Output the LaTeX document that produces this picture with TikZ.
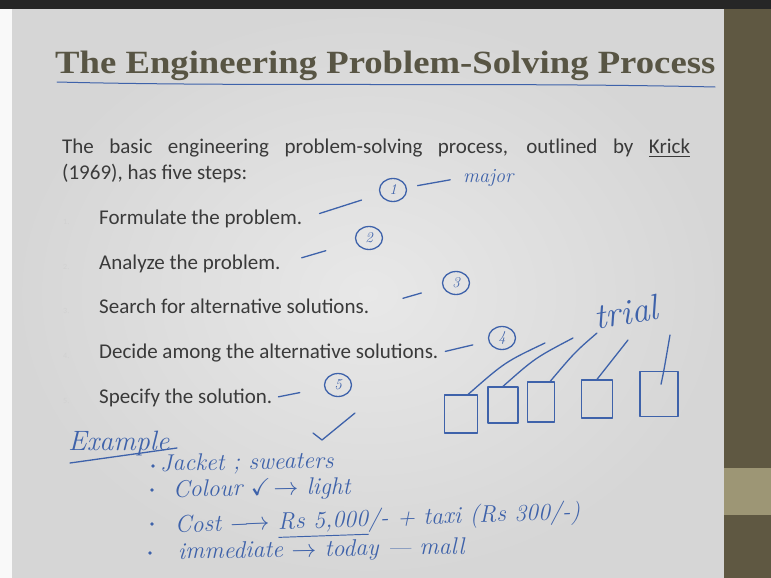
\documentclass[tikz,border=0pt]{standalone}
\usepackage{fontspec}
\usepackage{amssymb}
\usepackage{graphicx}
\usepackage{xcolor}
\usepackage{tikz}
\usetikzlibrary{shapes.geometric}

\newfontfamily\bodyfont{Carlito}
\newfontfamily\titlefont{Liberation Serif}

\definecolor{slidegray}{RGB}{214,214,214}
\definecolor{slidelight}{RGB}{232,232,232}
\definecolor{barolive}{RGB}{95,88,66}
\definecolor{barstripe}{RGB}{157,150,117}
\definecolor{titleolive}{RGB}{88,85,68}
\definecolor{bodygray}{RGB}{58,58,58}
\definecolor{inkblue}{RGB}{62,98,170}

\tikzset{
    ink/.style={draw=inkblue, line width=1.3pt, line cap=round, line join=round},
    stepitem/.style={anchor=base west, inner sep=0pt, text=bodygray,
        text height=14pt, text depth=4pt, font=\bodyfont\fontsize{21}{25}\selectfont},
    stepnum/.style={anchor=base west, inner sep=0pt, text=black!18,
        font=\bodyfont\fontsize{8}{9}\selectfont},
    numring/.style={ink, ellipse, minimum width=27pt, minimum height=23pt, inner sep=0pt,
        text=inkblue, font=\itshape\fontsize{15}{15}\selectfont},
    trialbox/.style={ink, inner sep=0pt},
    handtext/.style={anchor=base west, inner sep=0pt, text=inkblue,
        font=\itshape\fontsize{24}{26}\selectfont},
}

\begin{document}
\begin{tikzpicture}[x=1pt, y=-1pt]

                \useasboundingbox (0,0) rectangle (771,578);

                \fill[white!95!gray] (0,0) rectangle (12,578);
                \shade[
                    inner color=slidelight,
                    outer color=slidegray
                ] (12,9) rectangle (724,578);
                \fill[barolive] (724,9) rectangle (771,578);
                \fill[barstripe] (724,468) rectangle (771,515);
                \fill[black!85] (0,0) rectangle (771,9);

                \node[anchor=base west, inner sep=0pt, text=titleolive] (title) at (55,74)
                    {\resizebox{660pt}{22.5pt}{\titlefont\bfseries The Engineering Problem-Solving Process}};
                \draw[
                    ink,
                    line width=1pt
                ] (57,82) .. controls (250,87) and (500,82) .. (715,87);

                \node[stepitem] (intro) at (62,153)
                    {\makebox[628pt][s]{The basic engineering problem-solving process, outlined by \underline{Krick}}};
                \node[stepitem] (intro2) at (62,179) {(1969), has five steps:};

                \node[stepnum] (n1) at (63,224) {1.};
                \node[stepnum] (n2) at (63,269) {2.};
                \node[stepnum] (n3) at (63,313) {3.};
                \node[stepnum] (n4) at (63,358) {4.};
                \node[stepnum] (n5) at (63,403) {5.};

                \node[stepitem] (s1) at (99,224) {Formulate the problem.};
                \node[stepitem] (s2) at (99,269) {Analyze the problem.};
                \node[stepitem] (s3) at (99,313) {Search for alternative solutions.};
                \node[stepitem] (s4) at (99,358) {Decide among the alternative solutions.};
                \node[stepitem] (s5) at (99,403) {Specify the solution.};

                \node[numring] (c1) at (393,190) {1};
                \node[numring] (c2) at (369,238) {2};
                \node[numring] (c3) at (456,283) {3};
                \node[numring] (c4) at (502,338) {4};
                \node[numring] (c5) at (338,385) {5};

                \draw[ink, shorten <=18pt, shorten >=33pt] (s1.east) -- (c1.center);
                \draw[ink, shorten <=22pt, shorten >=45pt] (s2.east) -- (c2.center);
                \draw[ink, shorten <=35pt, shorten >=36pt] (s3.east) -- (c3.center);
                \draw[ink, shorten <=7pt, shorten >=30pt] (s4.east) -- (c4.center);
                \draw[ink, shorten <=6pt, shorten >=39pt] (s5.east) -- (c5.center);

                \node[handtext, font=\itshape\fontsize{20}{22}\selectfont] (major) at (463,182) {major};
                \draw[ink, shorten <=25pt, shorten >=13pt] (c1.center) -- (major.west);

                \node[
                    text=inkblue,
                    inner sep=0pt,
                    rotate=10,
                    font=\itshape\fontsize{36}{36}\selectfont
                ] (trial) at (626,312) {trial};

                \node[trialbox, minimum width=33pt, minimum height=38pt] (b1) at (461,414) {};
                \node[trialbox, minimum width=30pt, minimum height=36pt] (b2) at (503,405) {};
                \node[trialbox, minimum width=27pt, minimum height=40pt] (b3) at (541,402) {};
                \node[trialbox, minimum width=31pt, minimum height=38pt] (b4) at (597,399) {};
                \node[trialbox, minimum width=38pt, minimum height=45pt] (b5) at (659,394) {};

                \coordinate (tip1) at (545,343);
                \coordinate (tip2) at (573,338);
                \coordinate (tip3) at (597,333);
                \coordinate (tip4) at (628,340);
                \coordinate (tip5) at (670,335);

                \draw[ink] (b1.70) .. controls (505,362) .. (tip1);
                \draw[ink] (b2.north) .. controls (535,358) .. (tip2);
                \draw[ink] (b3.66) .. controls (575,352) .. (tip3);
                \draw[ink] (b4.north) .. controls (612,360) .. (tip4);
                \draw[ink, shorten <=10pt] (b5.center) .. controls (664,370) .. (tip5);

                \node[handtext, font=\itshape\fontsize{28}{30}\selectfont] (example) at (68,450) {Example};
                \draw[ink] (70,463) -- (177,448);
                \draw[ink] (313,433) -- (322,440) -- (355,413);

                \fill[inkblue] (153,466) circle (1.8);
                \fill[inkblue] (152,490) circle (1.8);
                \fill[inkblue] (152,524) circle (1.8);
                \fill[inkblue] (150,553) circle (1.8);

                \node[handtext, rotate=1, font=\itshape\fontsize{24}{26}\selectfont] (jacket) at (160,471)
                    {Jacket ; sweaters};
                \node[handtext, rotate=1] (colour) at (173,497) {Colour $\checkmark\!\rightarrow$ light};
                \node[handtext, rotate=2] (cost) at (175,533)
                    {Cost $\longrightarrow$ \underline{Rs 5,000}/- + taxi (Rs 300/-)};
                \node[handtext, rotate=1] (immediate) at (178,559) {immediate $\rightarrow$ today --- mall};

\end{tikzpicture}
\end{document}
